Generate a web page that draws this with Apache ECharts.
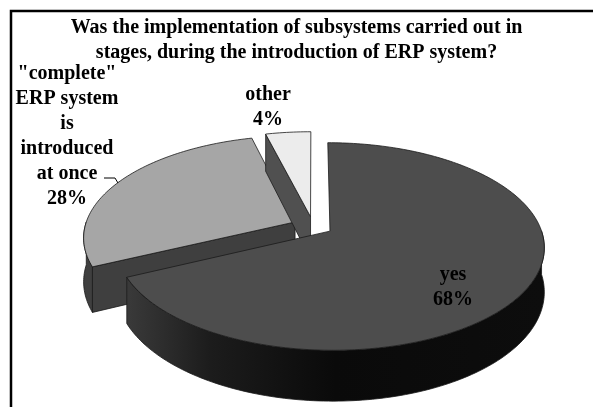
<!DOCTYPE html>
<html>
<head>
<meta charset="utf-8">
<script src="https://cdn.jsdelivr.net/npm/echarts@6/dist/echarts.min.js"></script>
<style>
  html, body { margin: 0; padding: 0; background: #fff; }
  #chart { width: 593px; height: 407px; }
</style>
</head>
<body>
<div id="chart"></div>
<script>
// data
const categories = ['yes', '"complete"\nERP system\nis\nintroduced\nat once', 'other'];
const values = [68, 28, 4];
const topColors = ['#4d4d4d', '#a6a6a6', '#ececec'];
const sideColors = ['#0d0d0d', '#3f3f3f', '#505050'];
const drawOrder = [2, 0, 1]; // back slices first

const total = values.reduce((a, b) => a + b, 0);
const center = [313, 226];
const RX = 210, RY = 100, DEPTH = 43, PERSP = 0.147, EXPLODE = 0.095;

// simple perspective for a tilted disc, z = 1 is the back edge
function proj(x, z, bottom) {
  let s = 1 / (1 + PERSP * z);
  return [center[0] + s * x * RX, center[1] - s * z * RY + (bottom ? s * DEPTH : 0)];
}

function renderSlice(params, api) {
  let i = params.dataIndex;
  let v = api.value(0);
  let before = 0;
  for (let k = 0; k < i; k++) before += values[k];
  let a1 = before / total * 2 * Math.PI;
  let a2 = (before + v) / total * 2 * Math.PI;
  let mid = (a1 + a2) / 2;
  let ox = EXPLODE * Math.sin(mid), oz = EXPLODE * Math.cos(mid);
  let P = (a, r, b) => proj(ox + r * Math.sin(a), oz + r * Math.cos(a), b);
  let arc = (from, to, b) => {
    let pts = [];
    let n = Math.max(2, Math.ceil(Math.abs(to - from) / 0.02));
    for (let j = 0; j <= n; j++) pts.push(P(from + (to - from) * j / n, 1, b));
    return pts;
  };
  let base = drawOrder[i] * 10;
  let line = { stroke: '#1a1a1a', lineWidth: 0.8 };
  let children = [];

  // curved outer wall, front half only
  let f1 = Math.max(a1, Math.PI / 2), f2 = Math.min(a2, Math.PI * 1.5);
  if (f2 > f1) {
    let pts = arc(f1, f2, false).concat(arc(f2, f1, true));
    let fill = i === 0
      ? new echarts.graphic.LinearGradient(0, 0, 1, 0, [
          { offset: 0, color: '#3a3a3a' },
          { offset: 0.2, color: '#1c1c1c' },
          { offset: 0.5, color: '#0a0a0a' },
          { offset: 1, color: '#0d0d0d' }
        ])
      : sideColors[i];
    children.push({ type: 'polygon', z2: base + 1, shape: { points: pts },
      style: Object.assign({ fill: fill }, line) });
  }
  // radial walls facing the viewer
  let apexT = proj(ox, oz, false), apexB = proj(ox, oz, true);
  if (Math.sin(a1) < -1e-6) {
    children.push({ type: 'polygon', z2: base + 2,
      shape: { points: [apexT, P(a1, 1, false), P(a1, 1, true), apexB] },
      style: Object.assign({ fill: i === 0 ? '#333' : sideColors[i] }, line) });
  }
  if (Math.sin(a2) > 1e-6) {
    children.push({ type: 'polygon', z2: base + 2,
      shape: { points: [apexT, P(a2, 1, false), P(a2, 1, true), apexB] },
      style: Object.assign({ fill: sideColors[i] }, line) });
  }
  // top face
  children.push({ type: 'polygon', z2: base + 5,
    shape: { points: [apexT].concat(arc(a1, a2, false)) },
    style: Object.assign({ fill: topColors[i] }, line) });

  return { type: 'group', children: children };
}

function labelText(i) {
  return categories[i] + '\n' + Math.round(values[i] / total * 100) + '%';
}

const labelPos = [[453, 287], [67, 136], [268, 107]];
const labelFont = { fontFamily: 'Liberation Serif', fontWeight: 'bold', fontSize: 20, fill: '#000' };

let chart = echarts.init(document.getElementById('chart'));
chart.setOption({
  animation: false,
  title: {
    text: 'Was the implementation of subsystems carried out in\nstages, during the introduction of ERP system?',
    left: 'center',
    top: 10,
    textStyle: { fontFamily: 'Liberation Serif', fontWeight: 'bold', fontSize: 20, lineHeight: 25, color: '#000' }
  },
  graphic: [
    { type: 'rect', shape: { x: 11, y: 11, width: 640, height: 440 },
      style: { fill: 'none', stroke: '#000', lineWidth: 2.5 }, z: 0 }
  ].concat(values.map((v, i) => ({
    type: 'text', x: labelPos[i][0], y: labelPos[i][1], z: 10,
    style: Object.assign({ text: labelText(i), align: 'center', verticalAlign: 'middle', lineHeight: 25 }, labelFont)
  }))).concat([
    { type: 'polyline', z: 10, shape: { points: [[104, 178], [115, 178], [118, 183]] },
      style: { stroke: '#000', lineWidth: 1, fill: 'none' } }
  ]),
  series: [{
    type: 'custom',
    coordinateSystem: 'none',
    renderItem: renderSlice,
    data: values
  }]
});
</script>
</body>
</html>
